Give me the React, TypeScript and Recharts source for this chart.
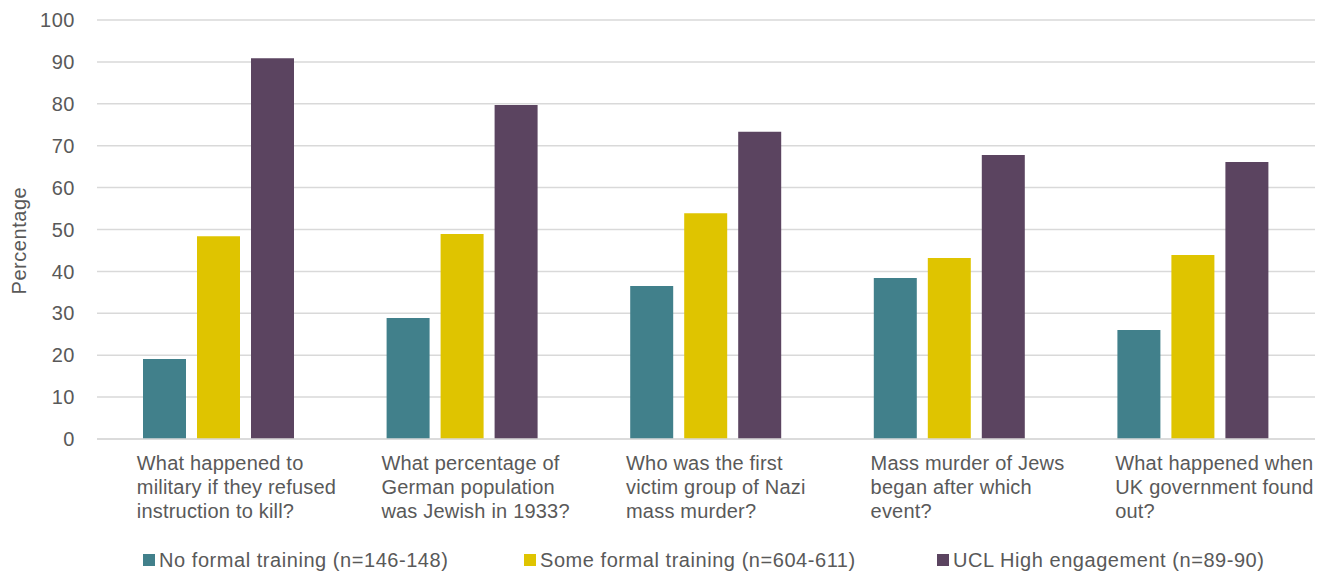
import { BarChart, Bar, XAxis, YAxis, CartesianGrid } from 'recharts'

const categories = [
  'What happened to military if they refused instruction to kill?',
  'What percentage of German population was Jewish in 1933?',
  'Who was the first victim group of Nazi mass murder?',
  'Mass murder of Jews began after which event?',
  'What happened when UK government found out?',
]

const categoryLines = [
  ['What happened to', 'military if they refused', 'instruction to kill?'],
  ['What percentage of', 'German population', 'was Jewish in 1933?'],
  ['Who was the first', 'victim group of Nazi', 'mass murder?'],
  ['Mass murder of Jews', 'began after which', 'event?'],
  ['What happened when', 'UK government found', 'out?'],
]

const noFormal = [19.1, 28.9, 36.5, 38.4, 26.0]
const someFormal = [48.4, 48.9, 53.9, 43.2, 43.9]
const uclHigh = [90.9, 79.7, 73.3, 67.8, 66.1]

const yTicks = [0, 10, 20, 30, 40, 50, 60, 70, 80, 90, 100]

const series = [
  { key: 'noFormal', name: 'No formal training (n=146-148)', color: '#41808b' },
  { key: 'someFormal', name: 'Some formal training (n=604-611)', color: '#dfc400' },
  { key: 'uclHigh', name: 'UCL High engagement (n=89-90)', color: '#5b4460' },
]

const data = categories.map((c, i) => ({
  name: c,
  noFormal: noFormal[i],
  someFormal: someFormal[i],
  uclHigh: uclHigh[i],
}))

const FONT = 'Helvetica, "Liberation Sans", Arial, sans-serif'
const TEXT = '#595959'
const LS = 0.55

// left-aligned wrapped category label
function CategoryTick({ x, y, index }: any) {
  const lines = categoryLines[index] || []
  const left = x - 82 + index
  return (
    <text x={left} y={y + 23} fill={TEXT} fontSize={20} fontFamily={FONT} letterSpacing={0.2} textAnchor="start">
      {lines.map((l, i) => (
        <tspan key={i} x={left} dy={i === 0 ? 0 : 24}>{l}</tspan>
      ))}
    </text>
  )
}

export default function App() {
  return (
    <div style={{ position: 'fixed', left: 0, top: 0, width: 1333, height: 575, background: '#fff', fontFamily: FONT }}>
      <style>{'html, body { margin: 0; overflow: hidden; }'}</style>
      <BarChart
        width={1333}
        height={575}
        data={data}
        margin={{ top: 20, right: 18, left: 0, bottom: 0 }}
        barGap={11}
        barCategoryGap={46}
      >
        <CartesianGrid vertical={false} stroke="#d9d9d9" strokeWidth={1.5} />
        <XAxis
          dataKey="name"
          axisLine={{ stroke: '#d9d9d9', strokeWidth: 1.5 }}
          tickLine={false}
          height={136}
          interval={0}
          tick={<CategoryTick />}
        />
        <YAxis
          width={97}
          domain={[0, 100]}
          ticks={yTicks}
          axisLine={false}
          tickLine={false}
          tick={{ fill: TEXT, fontSize: 20, fontFamily: FONT, letterSpacing: LS }}
          tickMargin={16}
          label={{ value: 'Percentage', angle: -90, position: 'insideLeft', dx: 14, dy: 65, fill: TEXT, fontSize: 20, fontFamily: FONT, letterSpacing: LS }}
        />
        {series.map(s => (
          <Bar key={s.key} dataKey={s.key} name={s.name} fill={s.color} barSize={43} isAnimationActive={false} />
        ))}
      </BarChart>
      <div style={{ position: 'absolute', top: 548, left: 143, height: 24, width: 1100 }}>
        {series.map((s, i) => (
          <div key={s.key} style={{ position: 'absolute', left: [0, 381, 794][i], top: 0, height: 24, display: 'flex', alignItems: 'center', whiteSpace: 'nowrap' }}>
            <span style={{ display: 'inline-block', width: 12, height: 12, background: s.color, marginRight: 4 }} />
            <span style={{ fontSize: 20, color: TEXT, letterSpacing: LS }}>{s.name}</span>
          </div>
        ))}
      </div>
    </div>
  )
}
